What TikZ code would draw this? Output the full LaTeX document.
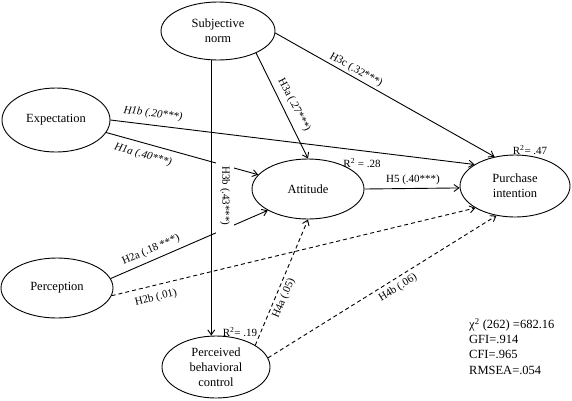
\documentclass[tikz,border=0pt]{standalone}
\usepackage{fontspec}
\setmainfont{Liberation Serif}
\usetikzlibrary{shapes.geometric,arrows.meta}
\begin{document}
\begin{tikzpicture}[x=1pt,y=-1pt,
  latent/.style={ellipse, draw, line width=0.9pt, inner sep=0pt, align=center,
    font=\fontsize{12.5}{15}\selectfont},
  sig/.style={line width=0.9pt, -{Straight Barb[length=5pt,width=7pt]}},
  nonsig/.style={sig, dash pattern=on 4pt off 3pt},
  lbl/.style={font=\fontsize{11}{13}\selectfont, inner sep=1pt},
  stats/.style={font=\fontsize{12.5}{15.3}\selectfont, align=left, inner sep=0pt, anchor=north west},
  ]
\useasboundingbox (0,0) rectangle (572,400);
% latent variables
\node[latent, minimum width=114pt, minimum height=58pt] (sn)  at (218,31)  {Subjective\\norm};
\node[latent, minimum width=108pt, minimum height=64pt] (exp) at (56,120)  {Expectation};
\node[latent, minimum width=112pt, minimum height=60pt] (att) at (308,189) {Attitude};
\node[latent, minimum width=110pt, minimum height=62pt] (pi)  at (515,186) {Purchase\\intention};
\node[latent, minimum width=112pt, minimum height=60pt] (per) at (57,288)  {Perception};
\node[latent, minimum width=108pt, minimum height=62pt] (pbc) at (216,367) {Perceived\\behavioral\\control};
% paths
\draw[sig] (exp.0) -- (pi.152);
\draw[sig] (exp.-14) -- (att.164);
\draw[sig] (per.10) -- (att.208);
\draw[nonsig] (per.-8) -- (pi.209);
\draw[sig] (sn.-30) -- (att.90);
\draw[sig] (sn.-103.6) -- (sn.-103.6 |- pbc.north);
\draw[sig] (sn.-2) -- (pi.125);
\draw[nonsig] (pbc.29) -- (att.-90);
\draw[nonsig] (pbc.10) -- (pi.238);
\draw[sig] (att.0) -- (pi.182);
% path labels
\node[lbl, rotate=-7] (l1b) at (153,114) {\itshape H1b (.20***)};
\node[lbl, rotate=-16] (l1a) at (143,155) {\itshape H1a (.40***)};
\node[lbl, rotate=23.5] (l2a) at (151,250) {H2a (.18 ***)};
\node[lbl, rotate=14] (l2b) at (156,298) {H2b (.01)};
\node[lbl, rotate=-62.5] (l3a) at (294,105) {H3a (.27***)};
\node[lbl, rotate=-90, fill=white, inner xsep=9pt, inner ysep=4pt] (l3b) at (225,196) {H3b (.43***)};
\node[lbl, rotate=-29] (l3c) at (356,70) {H3c (.32***)};
\node[lbl, rotate=67] (l4a) at (284,298) {H4a (.05)};
\node[lbl, rotate=32] (l4b) at (398,288) {H4b (.06)};
\node[lbl] (l5) at (413,180) {H5 (.40***)};
% R squared
\node[lbl] (r1) at (362,163) {R\textsuperscript{2} = .28};
\node[lbl] (r2) at (530,150) {R\textsuperscript{2}= .47};
\node[lbl] (r3) at (240,332) {R\textsuperscript{2}= .19};
% fit statistics
\node[stats] (fit) at (469,318) {χ\textsuperscript{2} (262) =682.16\\GFI=.914\\CFI=.965\\RMSEA=.054};
\end{tikzpicture}
\end{document}
